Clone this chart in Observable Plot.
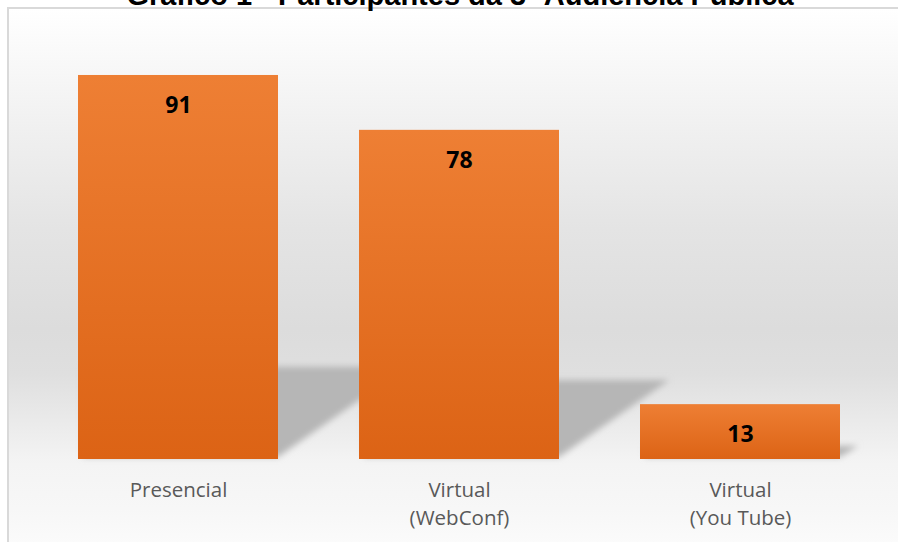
<!DOCTYPE html>
<html>
<head>
<meta charset="utf-8">
<script src="https://cdn.jsdelivr.net/npm/d3@7"></script>
<script src="https://cdn.jsdelivr.net/npm/@observablehq/plot@0.6"></script>
<style>
  html, body { margin: 0; padding: 0; background: #fff; overflow: hidden; }
  #page { position: relative; width: 100vw; height: 100vh; min-width: 898px; min-height: 542px; overflow: hidden; }
  #bg {
    position: absolute; left: 7px; top: 7px; right: -20px; bottom: -20px;
    border-left: 2px solid #d9d9d9; border-top: 2px solid #d9d9d9;
    background: linear-gradient(to bottom,
      #ffffff 0px, #f0f0f0 120px, #e4e4e4 220px, #dcdcdc 320px,
      #dfdfdf 365px, #ececec 420px, #f4f4f4 455px, #f7f7f7 500px, #fbfbfb 535px);
  }
  #title {
    position: absolute; left: 0; width: 898px; top: -21px; text-align: center;
    font-family: "Liberation Sans", Arial, sans-serif; font-weight: bold; font-size: 29px;
    color: #000; white-space: nowrap; padding-left: 22px; box-sizing: border-box;
  }
  #chart { position: absolute; left: 0; top: 0; width: 898px; height: 542px; }
</style>
</head>
<body>
<svg width="0" height="0" style="position:absolute">
  <defs>
    <linearGradient id="barGrad" x1="0" y1="0" x2="0" y2="1">
      <stop offset="0%" stop-color="#ee7f34"/>
      <stop offset="100%" stop-color="#dc6315"/>
    </linearGradient>
    <filter id="shadowBlur" x="-20%" y="-20%" width="140%" height="140%">
      <feGaussianBlur stdDeviation="3"/>
    </filter>
  </defs>
</svg>
<div id="page">
  <div id="bg"></div>
  <div id="title">Gráfico 1 - Participantes da 3ª Audiência Pública</div>
  <div id="chart"></div>
</div>
<script>
const categories = ["Presencial", "Virtual\n(WebConf)", "Virtual\n(You Tube)"];
const values = [91, 78, 13];

const data = categories.map((c, i) => ({category: c, value: values[i]}));

const plot = Plot.plot({
  width: 898,
  height: 542,
  marginLeft: 37.5,
  marginRight: 17,
  marginTop: 37,
  marginBottom: 83,
  style: {background: "transparent", fontFamily: "'Open Sans', sans-serif"},
  x: {domain: categories, paddingInner: 0.288, paddingOuter: 0.144, label: null},
  y: {domain: [0, 100], axis: null},
  marks: [
    Plot.barY(data, {x: "category", y: "value", fill: "url(#barGrad)"}),
    Plot.text(data, {x: "category", y: "value", text: d => String(d.value), dy: 30,
      fontSize: 23, fontWeight: "bold", fill: "#000"}),
    Plot.axisX({tickSize: 0, tickPadding: 17.5, fontSize: 20.5, lineHeight: 1.37,
      color: "#595959", label: null})
  ]
});
document.getElementById("chart").appendChild(plot);

// perspective shadows, derived from the data through Plot's scales
const xs = plot.scale("x"), ys = plot.scale("y");
const bw = xs.bandwidth;
const y0 = ys.apply(0);
const shadowG = d3.select(plot).insert("g", '[aria-label="bar"]')
  .attr("filter", "url(#shadowBlur)");
data.forEach(d => {
  const xl = xs.apply(d.category), xr = xl + bw;
  const h = y0 - ys.apply(d.value);
  const top = y0 - 0.24 * h;
  const ext = 0.335 * h;
  shadowG.append("polygon")
    .attr("points", [[xl + 5, top], [xr + ext, top], [xr, y0 - 2], [xl + 5, y0 - 2]].map(p => p.join(",")).join(" "))
    .attr("fill", "#b6b6b6");
});
</script>
</body>
</html>
